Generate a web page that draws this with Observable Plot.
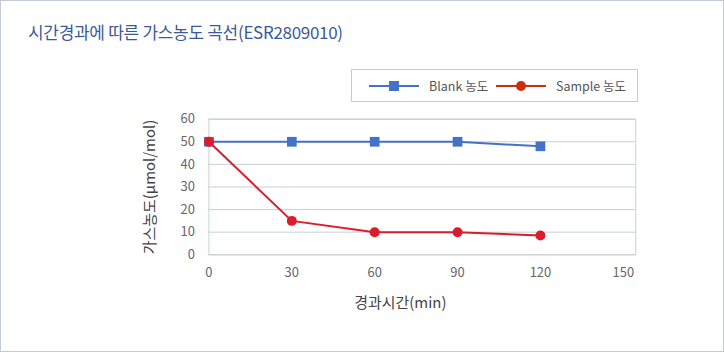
<!DOCTYPE html>
<html><head><meta charset="utf-8">
<script src="https://cdn.jsdelivr.net/npm/d3@7"></script>
<script src="https://cdn.jsdelivr.net/npm/@observablehq/plot@0.6"></script>
<style>
body{margin:0;background:#fff;font-family:"Noto Sans CJK KR","Noto Sans",sans-serif;}
#wrap{position:relative;width:722px;height:350px;border:1px solid #c3ccd6;overflow:hidden;}
#title{position:absolute;left:27px;top:18px;font-size:17px;color:#3b5a9a;letter-spacing:-0.3px;}
#legend{position:absolute;left:350px;top:68px;width:285px;height:31px;border:1px solid #c3ccd6;font-size:12.5px;color:#555;}
#chart{position:absolute;left:0;top:0;}
</style></head><body>
<div id="wrap">
<div id="chart"></div>
<div id="title">시간경과에 따른 가스농도 곡선(ESR2809010)</div>
<div id="legend"></div>
</div>
<script>
const times = [0, 30, 60, 90, 120];
const blank = [50, 50, 50, 50, 48];
const sample = [50, 15, 10, 10, 8.5];
const xTicks = [0, 30, 60, 90, 120, 150];
const yTicks = [0, 10, 20, 30, 40, 50, 60];
const seriesNames = ["Blank 농도", "Sample 농도"];
const lineColors = ["#4472c4", "#dc1c2c"];
const legendColors = ["#4472c4", "#c8300f"];

const blankData = times.map((t, i) => ({t, v: blank[i]}));
const sampleData = times.map((t, i) => ({t, v: sample[i]}));

const plot = Plot.plot({
  width: 724, height: 352,
  marginLeft: 208, marginRight: 88, marginTop: 118, marginBottom: 98,
  style: {fontFamily: '"Noto Sans CJK KR","Noto Sans",sans-serif', fontSize: "13px", color: "#666", background: "transparent"},
  x: {domain: [0, 154.5], ticks: xTicks, tickSize: 0, tickPadding: 13, label: "경과시간(min)", labelAnchor: "center", labelOffset: 53, labelArrow: "none"},
  y: {domain: [0, 60], ticks: yTicks, tickSize: 0, tickPadding: 14, label: "가스농도(μmol/mol)", labelAnchor: "center", labelOffset: 65, labelArrow: "none"},
  marks: [
    Plot.gridY(yTicks, {stroke: "#c8d0d4", strokeOpacity: 1}),
    Plot.frame({stroke: "#c8d0d4"}),
    Plot.line(blankData, {x: "t", y: "v", stroke: lineColors[0], strokeWidth: 2}),
    Plot.dot(blankData, {x: "t", y: "v", symbol: "square", r: 5.5, fill: lineColors[0]}),
    Plot.line(sampleData, {x: "t", y: "v", stroke: lineColors[1], strokeWidth: 2}),
    Plot.dot(sampleData, {x: "t", y: "v", symbol: "circle", r: 5, fill: lineColors[1]})
  ]
});
plot.querySelectorAll('[aria-label="x-axis label"] text, [aria-label="y-axis label"] text').forEach(t => {
  t.style.fontSize = "15px"; t.style.fill = "#444";
});
const xl = plot.querySelector('[aria-label="x-axis label"]');
if (xl) xl.setAttribute("transform", (xl.getAttribute("transform") || "") + " translate(-22,0)");
document.getElementById("chart").appendChild(plot);

// legend
const lg = d3.select("#legend").append("svg").attr("width", 285).attr("height", 31)
  .style("font-family", '"Noto Sans CJK KR","Noto Sans",sans-serif');
const items = [
  {x0: 17, name: seriesNames[0], color: legendColors[0], sym: "square", tx: 77},
  {x0: 144, name: seriesNames[1], color: legendColors[1], sym: "circle", tx: 204}
];
items.forEach(it => {
  lg.append("line").attr("x1", it.x0).attr("x2", it.x0 + 50).attr("y1", 16).attr("y2", 16)
    .attr("stroke", it.color).attr("stroke-width", 2);
  if (it.sym === "square") lg.append("rect").attr("x", it.x0 + 20).attr("y", 11).attr("width", 10).attr("height", 10).attr("fill", it.color);
  else lg.append("circle").attr("cx", it.x0 + 25).attr("cy", 16).attr("r", 5).attr("fill", it.color);
  lg.append("text").attr("x", it.tx).attr("y", 20.5).attr("font-size", 12.5).attr("fill", "#555").text(it.name);
});
</script>
</body></html>
